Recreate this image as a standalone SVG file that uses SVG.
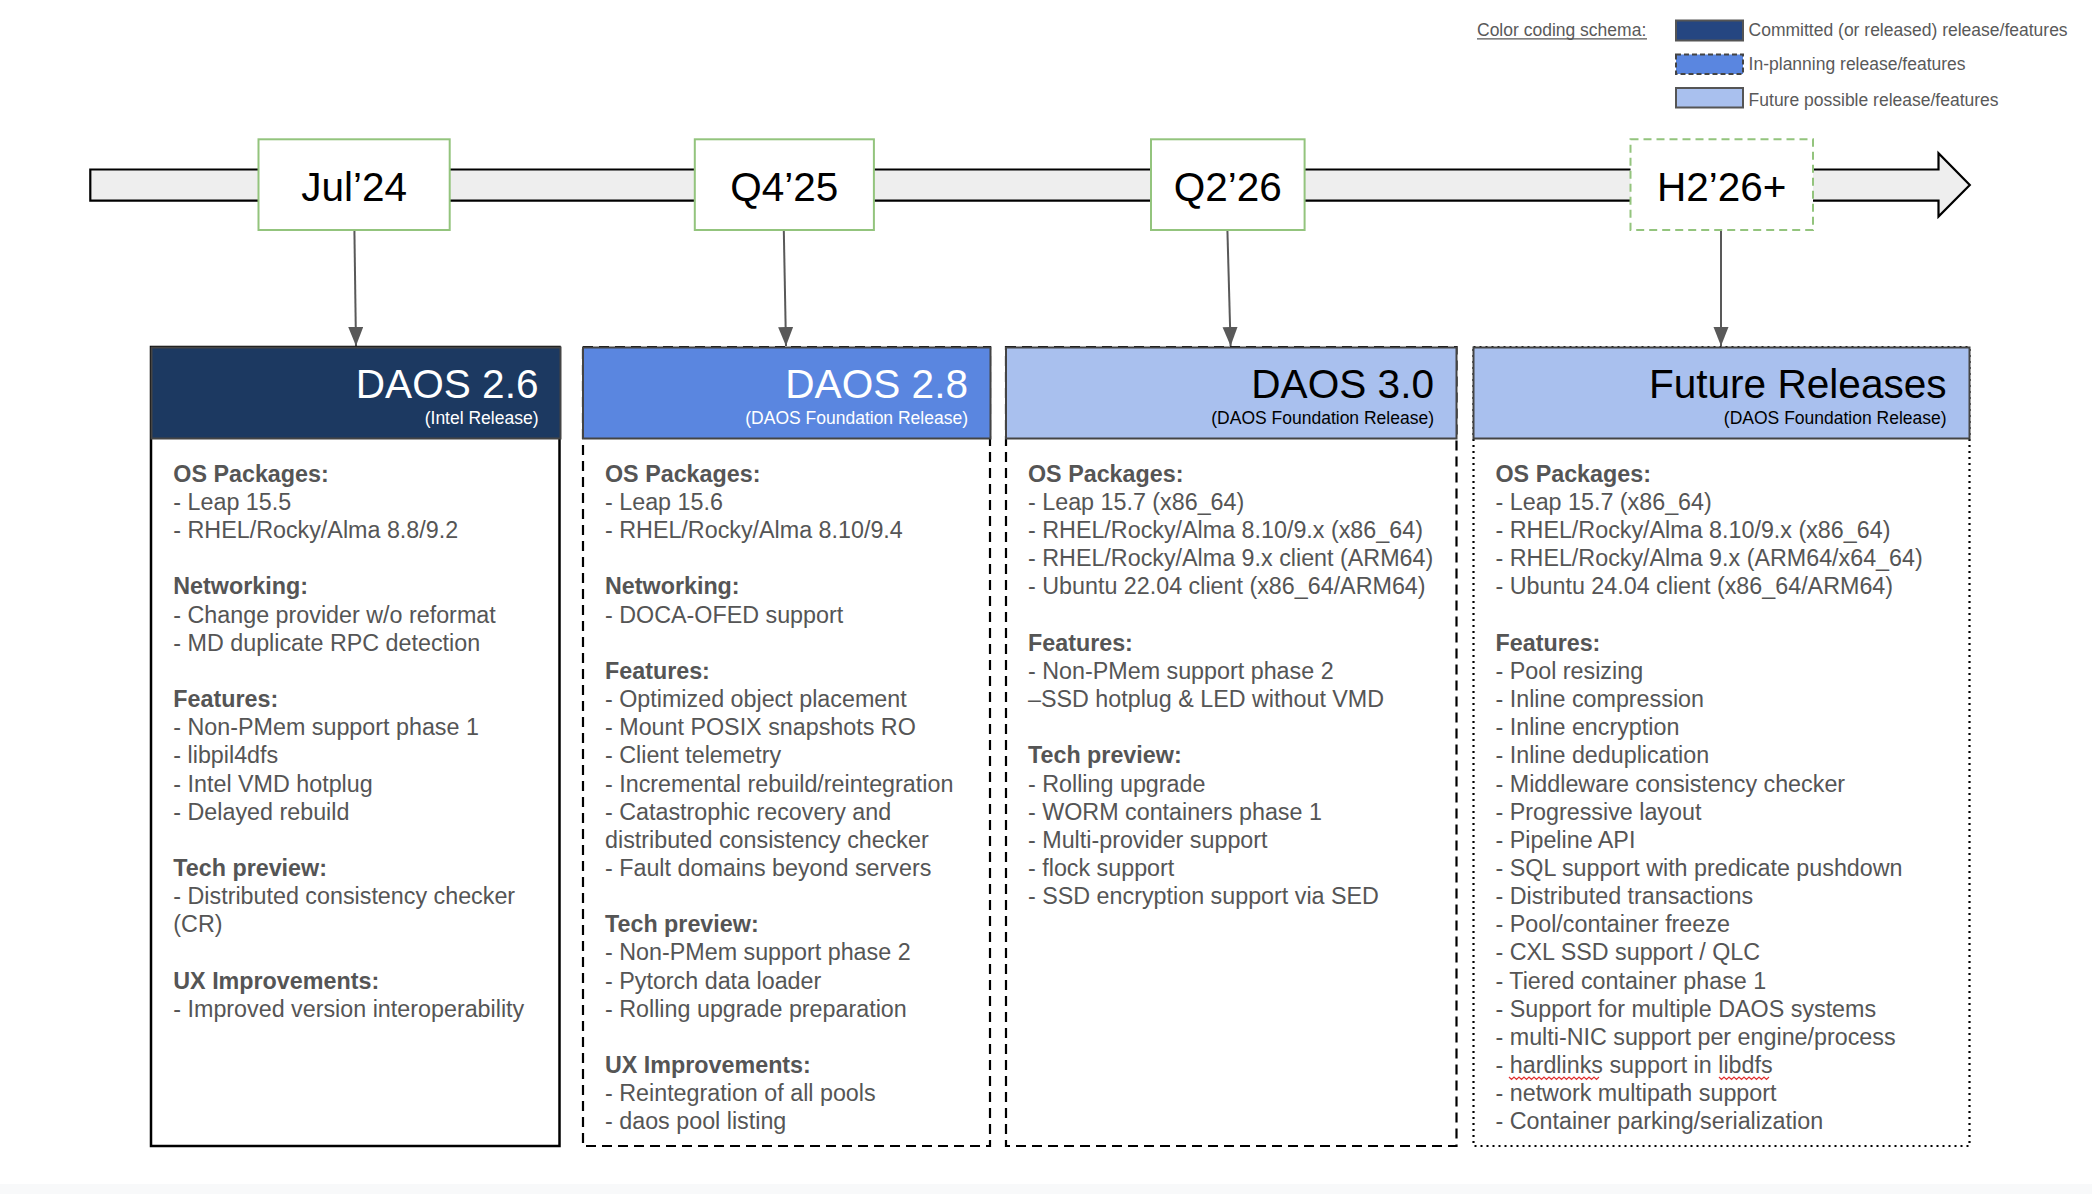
<svg xmlns="http://www.w3.org/2000/svg" width="2092" height="1194" viewBox="0 0 2092 1194">
<style>
  text { font-family: "Liberation Sans", Arial, sans-serif; }
  .date { font-size: 40.5px; fill: #000; text-anchor: middle; }
  .dbox { fill: #fff; stroke: #93c47d; stroke-width: 2; }
  .conn { stroke: #595959; stroke-width: 2; fill: none; marker-end: url(#ah); }
  .title { font-size: 40.6px; text-anchor: end; }
  .sub { font-size: 17.5px; text-anchor: end; }
  .body { font-size: 23.3px; fill: #555; }
  .h { font-weight: bold; }
  .leg { font-size: 17.5px; fill: #595959; }
  .hdr { stroke: #444; stroke-width: 2; }
  .squig { fill: none; stroke: #e03030; stroke-width: 1.2; }
</style>
<defs>
  <marker id="ah" markerUnits="userSpaceOnUse" markerWidth="20" markerHeight="16" refX="19" refY="7.5" orient="auto">
    <path d="M0,0 L19,7.5 L0,15 z" fill="#595959"/>
  </marker>
</defs>
<rect x="0" y="0" width="2092" height="1194" fill="#fff"/>
<rect x="0" y="1184" width="2092" height="10" fill="#f8f9fa"/>

<g id="legend">
  <text class="leg" x="1477" y="35.7">Color coding schema:</text>
  <line x1="1477" y1="38.8" x2="1647" y2="38.8" stroke="#595959" stroke-width="1.2"/>
  <rect x="1676" y="20.5" width="67" height="20" fill="#254681" stroke="#555" stroke-width="2"/>
  <text class="leg" x="1748.6" y="35.7">Committed (or released) release/features</text>
  <rect x="1676" y="54.5" width="67" height="19.5" fill="#5a86e0" stroke="#444" stroke-width="2" stroke-dasharray="5 3"/>
  <text class="leg" x="1748.6" y="69.5">In-planning release/features</text>
  <rect x="1676" y="88" width="67" height="19.5" fill="#a9c0ee" stroke="#555" stroke-width="2"/>
  <text class="leg" x="1748.6" y="105.5">Future possible release/features</text>
</g>

<g id="timeline">
  <polygon points="90.3,169.5 1938.5,169.5 1938.5,153.3 1969.8,185.1 1938.5,216.5 1938.5,200.7 90.3,200.7" fill="#eeeeee" stroke="#000" stroke-width="2.2"/>
</g>

<g id="connectors">
  <line class="conn" x1="354.4" y1="230" x2="356" y2="346"/>
  <line class="conn" x1="783.8" y1="230" x2="786" y2="346"/>
  <line class="conn" x1="1227.4" y1="230" x2="1230.6" y2="346"/>
  <line class="conn" x1="1721" y1="230" x2="1721" y2="346"/>
</g>

<g id="date-jul24">
  <rect class="dbox" x="258.5" y="139.3" width="191.2" height="90.7"/>
  <text class="date" x="354.1" y="200.7">Jul’24</text>
</g>
<g id="date-q425">
  <rect class="dbox" x="694.8" y="139.3" width="179.1" height="90.7"/>
  <text class="date" x="784.3" y="200.7">Q4’25</text>
</g>
<g id="date-q226">
  <rect class="dbox" x="1151" y="139.3" width="153.6" height="90.7"/>
  <text class="date" x="1227.8" y="200.7">Q2’26</text>
</g>
<g id="date-h226">
  <rect class="dbox" x="1630.5" y="139.3" width="182.5" height="90.7" stroke-dasharray="8 5"/>
  <text class="date" x="1721.7" y="200.7">H2’26+</text>
</g>

<g id="panel-daos26">
  <rect x="151" y="347" width="408.5" height="799" fill="#fff" stroke="#000" stroke-width="2.5"/>
  <rect class="hdr" x="151.5" y="347.5" width="409" height="91" fill="#1c3961"/>
  <text class="title" x="538.5" y="398.3" fill="#fff">DAOS 2.6</text>
  <text class="sub" x="538.5" y="424" fill="#fff">(Intel Release)</text>
  <text class="body">
    <tspan class="h" x="173.3" y="481.7">OS Packages:</tspan>
    <tspan x="173.3" y="509.9">- Leap 15.5</tspan>
    <tspan x="173.3" y="538">- RHEL/Rocky/Alma 8.8/9.2</tspan>
    <tspan class="h" x="173.3" y="594.3">Networking:</tspan>
    <tspan x="173.3" y="622.5">- Change provider w/o reformat</tspan>
    <tspan x="173.3" y="650.7">- MD duplicate RPC detection</tspan>
    <tspan class="h" x="173.3" y="707">Features:</tspan>
    <tspan x="173.3" y="735.1">- Non-PMem support phase 1</tspan>
    <tspan x="173.3" y="763.3">- libpil4dfs</tspan>
    <tspan x="173.3" y="791.5">- Intel VMD hotplug</tspan>
    <tspan x="173.3" y="819.6">- Delayed rebuild</tspan>
    <tspan class="h" x="173.3" y="875.9">Tech preview:</tspan>
    <tspan x="173.3" y="904.1">- Distributed consistency checker</tspan>
    <tspan x="173.3" y="932.3">(CR)</tspan>
    <tspan class="h" x="173.3" y="988.6">UX Improvements:</tspan>
    <tspan x="173.3" y="1016.7">- Improved version interoperability</tspan>
  </text>
</g>

<g id="panel-daos28">
  <rect x="583" y="347" width="407" height="799" fill="#fff" stroke="#000" stroke-width="2.2" stroke-dasharray="10 6"/>
  <rect class="hdr" x="583" y="347.5" width="407.5" height="91" fill="#5a86e0"/>
  <text class="title" x="968" y="398.3" fill="#fff">DAOS 2.8</text>
  <text class="sub" x="968" y="424" fill="#fff">(DAOS Foundation Release)</text>
  <text class="body">
    <tspan class="h" x="605" y="481.7">OS Packages:</tspan>
    <tspan x="605" y="509.9">- Leap 15.6</tspan>
    <tspan x="605" y="538">- RHEL/Rocky/Alma 8.10/9.4</tspan>
    <tspan class="h" x="605" y="594.3">Networking:</tspan>
    <tspan x="605" y="622.5">- DOCA-OFED support</tspan>
    <tspan class="h" x="605" y="678.8">Features:</tspan>
    <tspan x="605" y="707">- Optimized object placement</tspan>
    <tspan x="605" y="735.1">- Mount POSIX snapshots RO</tspan>
    <tspan x="605" y="763.3">- Client telemetry</tspan>
    <tspan x="605" y="791.5">- Incremental rebuild/reintegration</tspan>
    <tspan x="605" y="819.6">- Catastrophic recovery and</tspan>
    <tspan x="605" y="847.8">distributed consistency checker</tspan>
    <tspan x="605" y="875.9">- Fault domains beyond servers</tspan>
    <tspan class="h" x="605" y="932.3">Tech preview:</tspan>
    <tspan x="605" y="960.4">- Non-PMem support phase 2</tspan>
    <tspan x="605" y="988.6">- Pytorch data loader</tspan>
    <tspan x="605" y="1016.7">- Rolling upgrade preparation</tspan>
    <tspan class="h" x="605" y="1073.1">UX Improvements:</tspan>
    <tspan x="605" y="1101.2">- Reintegration of all pools</tspan>
    <tspan x="605" y="1129.4">- daos pool listing</tspan>
  </text>
</g>

<g id="panel-daos30">
  <rect x="1006" y="347" width="450.5" height="799" fill="#fff" stroke="#000" stroke-width="2.2" stroke-dasharray="10 6"/>
  <rect class="hdr" x="1006" y="347.5" width="450.5" height="91" fill="#a9c0ee"/>
  <text class="title" x="1434" y="398.3" fill="#000">DAOS 3.0</text>
  <text class="sub" x="1434" y="424" fill="#000">(DAOS Foundation Release)</text>
  <text class="body">
    <tspan class="h" x="1028" y="481.7">OS Packages:</tspan>
    <tspan x="1028" y="509.9">- Leap 15.7 (x86_64)</tspan>
    <tspan x="1028" y="538">- RHEL/Rocky/Alma 8.10/9.x (x86_64)</tspan>
    <tspan x="1028" y="566.2">- RHEL/Rocky/Alma 9.x client (ARM64)</tspan>
    <tspan x="1028" y="594.3">- Ubuntu 22.04 client (x86_64/ARM64)</tspan>
    <tspan class="h" x="1028" y="650.7">Features:</tspan>
    <tspan x="1028" y="678.8">- Non-PMem support phase 2</tspan>
    <tspan x="1028" y="707">–SSD hotplug &amp; LED without VMD</tspan>
    <tspan class="h" x="1028" y="763.3">Tech preview:</tspan>
    <tspan x="1028" y="791.5">- Rolling upgrade</tspan>
    <tspan x="1028" y="819.6">- WORM containers phase 1</tspan>
    <tspan x="1028" y="847.8">- Multi-provider support</tspan>
    <tspan x="1028" y="875.9">- flock support</tspan>
    <tspan x="1028" y="904.1">- SSD encryption support via SED</tspan>
  </text>
</g>

<g id="panel-future">
  <rect x="1473.5" y="347" width="496" height="799" fill="#fff" stroke="#000" stroke-width="2.2" stroke-dasharray="2 4"/>
  <rect class="hdr" x="1473.5" y="347.5" width="496" height="91" fill="#a9c0ee"/>
  <text class="title" x="1946.6" y="398.3" fill="#000">Future Releases</text>
  <text class="sub" x="1946.6" y="424" fill="#000">(DAOS Foundation Release)</text>
  <text class="body">
    <tspan class="h" x="1495.5" y="481.7">OS Packages:</tspan>
    <tspan x="1495.5" y="509.9">- Leap 15.7 (x86_64)</tspan>
    <tspan x="1495.5" y="538">- RHEL/Rocky/Alma 8.10/9.x (x86_64)</tspan>
    <tspan x="1495.5" y="566.2">- RHEL/Rocky/Alma 9.x (ARM64/x64_64)</tspan>
    <tspan x="1495.5" y="594.3">- Ubuntu 24.04 client (x86_64/ARM64)</tspan>
    <tspan class="h" x="1495.5" y="650.7">Features:</tspan>
    <tspan x="1495.5" y="678.8">- Pool resizing</tspan>
    <tspan x="1495.5" y="707">- Inline compression</tspan>
    <tspan x="1495.5" y="735.1">- Inline encryption</tspan>
    <tspan x="1495.5" y="763.3">- Inline deduplication</tspan>
    <tspan x="1495.5" y="791.5">- Middleware consistency checker</tspan>
    <tspan x="1495.5" y="819.6">- Progressive layout</tspan>
    <tspan x="1495.5" y="847.8">- Pipeline API</tspan>
    <tspan x="1495.5" y="875.9">- SQL support with predicate pushdown</tspan>
    <tspan x="1495.5" y="904.1">- Distributed transactions</tspan>
    <tspan x="1495.5" y="932.3">- Pool/container freeze</tspan>
    <tspan x="1495.5" y="960.4">- CXL SSD support / QLC</tspan>
    <tspan x="1495.5" y="988.6">- Tiered container phase 1</tspan>
    <tspan x="1495.5" y="1016.7">- Support for multiple DAOS systems</tspan>
    <tspan x="1495.5" y="1044.9">- multi-NIC support per engine/process</tspan>
    <tspan x="1495.5" y="1073.1">- hardlinks support in libdfs</tspan>
    <tspan x="1495.5" y="1101.2">- network multipath support</tspan>
    <tspan x="1495.5" y="1129.4">- Container parking/serialization</tspan>
  </text>
  <path class="squig" d="M1509,1077 l2.5,2.5 l2.5,-2.5 l2.5,2.5 l2.5,-2.5 l2.5,2.5 l2.5,-2.5 l2.5,2.5 l2.5,-2.5 l2.5,2.5 l2.5,-2.5 l2.5,2.5 l2.5,-2.5 l2.5,2.5 l2.5,-2.5 l2.5,2.5 l2.5,-2.5 l2.5,2.5 l2.5,-2.5 l2.5,2.5 l2.5,-2.5 l2.5,2.5 l2.5,-2.5 l2.5,2.5 l2.5,-2.5 l2.5,2.5 l2.5,-2.5 l2.5,2.5 l2.5,-2.5 l2.5,2.5 l2.5,-2.5 l2.5,2.5 l2.5,-2.5 l2.5,2.5 l2.5,-2.5 l2.5,2.5 l2.5,-2.5"/>
  <path class="squig" d="M1719,1077 l2.5,2.5 l2.5,-2.5 l2.5,2.5 l2.5,-2.5 l2.5,2.5 l2.5,-2.5 l2.5,2.5 l2.5,-2.5 l2.5,2.5 l2.5,-2.5 l2.5,2.5 l2.5,-2.5 l2.5,2.5 l2.5,-2.5 l2.5,2.5 l2.5,-2.5 l2.5,2.5 l2.5,-2.5 l2.5,2.5 l2.5,-2.5"/>
</g>
</svg>
